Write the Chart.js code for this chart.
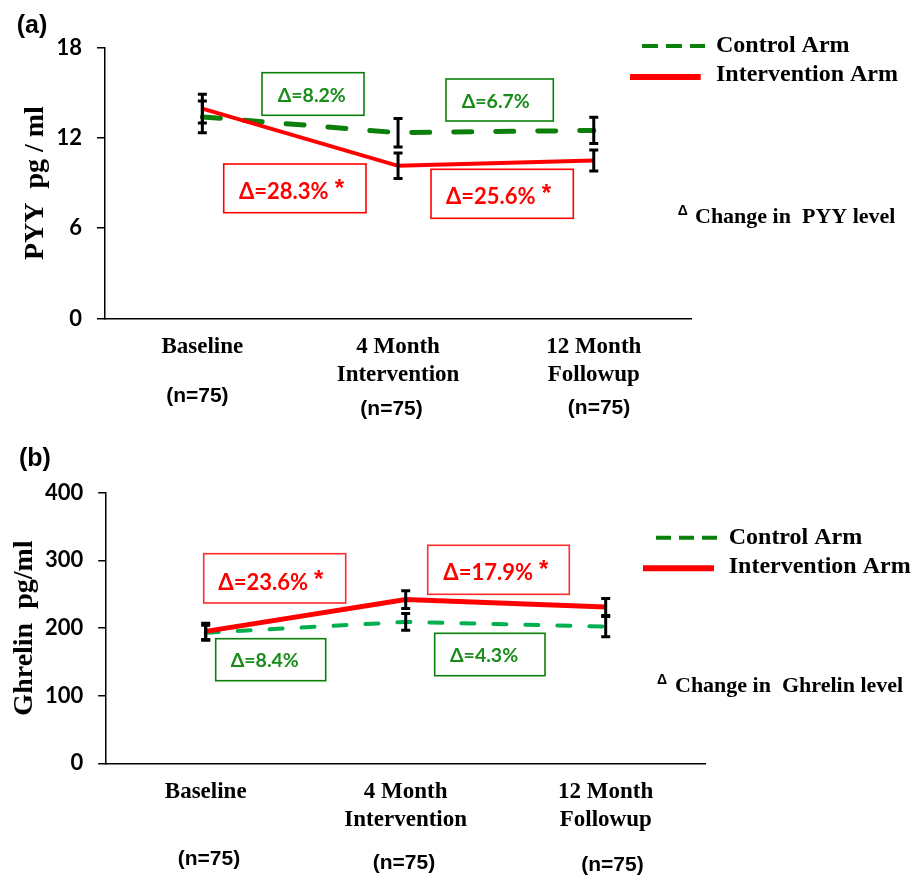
<!DOCTYPE html>
<html>
<head>
<meta charset="utf-8">
<script src="https://cdn.jsdelivr.net/npm/chart.js@4.4.0/dist/chart.umd.min.js"></script>
<style>
  body { margin: 0; background: #fff; }
  #wrap { position: relative; width: 924px; height: 876px; }
  .panel { position: absolute; left: 0; width: 924px; }
</style>
</head>
<body>
<div id="wrap">
  <div class="panel" style="top:0;height:440px"><canvas id="pyy" width="924" height="440"></canvas></div>
  <div class="panel" style="top:440px;height:436px"><canvas id="ghrelin" width="924" height="436"></canvas></div>
</div>
<script>
const timepoints = [['Baseline'], ['4 Month', 'Intervention'], ['12 Month', 'Followup']];
const sampleSizes = ['(n=75)', '(n=75)', '(n=75)'];

const pyyControl = [13.4, 12.35, 12.5];
const pyyControlErr = [1.05, 0.95, 0.87];
const pyyIntervention = [13.95, 10.15, 10.5];
const pyyInterventionErr = [0.95, 0.85, 0.7];
const pyyTicks = [0, 6, 12, 18];
const pyyChanges = ['Δ=8.2%', 'Δ=6.7%', 'Δ=28.3%', 'Δ=25.6%'];

const ghrControl = [193, 209, 202];
const ghrControlErr = [11, 12.5, 15];
const ghrIntervention = [195, 242, 231];
const ghrInterventionErr = [12, 13, 12.7];
const ghrTicks = [0, 100, 200, 300, 400];
const ghrChanges = ['Δ=23.6%', 'Δ=8.4%', 'Δ=17.9%', 'Δ=4.3%'];

const GREEN = '#0a800a';
const GREEN_TXT = '#1a8c1a';
const RED = '#ff0000';
const SERIF = '"Liberation Serif", "Times New Roman", serif';
const SANS = 'Lato, "Liberation Sans", sans-serif';

// overlay layout per panel (canvas coords)
const overlays = {
  pyy: {
    panel: { text: '(a)', x: 16.7, y: 32.5 },
    boxes: [
      { idx: 0, color: GREEN, x: 262, y: 72.7, w: 102, h: 42.6, tx: 277.7, ty: 101.7, size: 19.5 },
      { idx: 1, color: GREEN, x: 446, y: 79, w: 107.3, h: 42, tx: 461.7, ty: 108.3, size: 19.5 },
      { idx: 2, color: RED, x: 223.7, y: 164, w: 142.3, h: 48.7, tx: 239, ty: 199, size: 22, star: true },
      { idx: 3, color: RED, x: 431, y: 169.3, w: 142.3, h: 49, tx: 446, ty: 204, size: 22, star: true }
    ],
    legend: { dashX: [642, 705], dashY: 46, solidX: [630, 700.7], solidY: 77, tx: 716, ty1: 52, ty2: 81, dash: [16, 8] },
    note: { text: 'Change in  PYY level', dx: 677.7, dy: 215, tx: 695, ty: 222.7 },
    nOffsets: [-5, -6.5, 5.3],
    nBase: [402, 414.5, 414]
  },
  ghrelin: {
    panel: { text: '(b)', x: 19, y: 25.5 },
    boxes: [
      { idx: 0, color: '#ff2a2a', x: 203.7, y: 113.7, w: 142, h: 49.3, tx: 218.3, ty: 150, size: 22, star: true },
      { idx: 1, color: GREEN, x: 215.7, y: 198.7, w: 110, h: 42, tx: 230.7, ty: 227.3, size: 19.5 },
      { idx: 2, color: '#ff2a2a', x: 427.7, y: 105.3, w: 141.6, h: 49, tx: 443.3, ty: 140, size: 22, star: true },
      { idx: 3, color: GREEN, x: 434.7, y: 193.3, w: 110.3, h: 42.4, tx: 450, ty: 221.7, size: 19.5 }
    ],
    legend: { dashX: [656, 717.7], dashY: 97.7, solidX: [643, 714], solidY: 128.3, tx: 728.7, ty1: 104, ty2: 133.3, dash: [15, 8] },
    note: { text: 'Change in  Ghrelin level', dx: 657, dy: 244, tx: 675, ty: 251.7 },
    nOffsets: [3.3, -1.7, 6.8],
    nBase: [425, 429, 431]
  }
};

const changeLabels = { pyy: pyyChanges, ghrelin: ghrChanges };

const errorBars = {
  id: 'errorBars',
  afterDatasetsDraw(chart) {
    const { ctx, scales: { y } } = chart;
    ctx.save();
    ctx.strokeStyle = '#000';
    ctx.lineWidth = 3;
    chart.data.datasets.forEach((ds, i) => {
      const meta = chart.getDatasetMeta(i);
      meta.data.forEach((pt, j) => {
        const top = y.getPixelForValue(ds.data[j] + ds.errors[j]);
        const bot = y.getPixelForValue(ds.data[j] - ds.errors[j]);
        ctx.beginPath();
        ctx.moveTo(pt.x, top); ctx.lineTo(pt.x, bot);
        ctx.moveTo(pt.x - 4.5, top); ctx.lineTo(pt.x + 4.5, top);
        ctx.moveTo(pt.x - 4.5, bot); ctx.lineTo(pt.x + 4.5, bot);
        ctx.stroke();
      });
    });
    ctx.restore();
  }
};

const overlay = {
  id: 'overlay',
  afterDraw(chart) {
    const o = overlays[chart.canvas.id];
    const texts = changeLabels[chart.canvas.id];
    const { ctx } = chart;
    ctx.save();

    // panel letter
    ctx.fillStyle = '#000';
    ctx.font = 'bold 25px "Liberation Sans", Arial, sans-serif';
    ctx.textBaseline = 'alphabetic';
    ctx.textAlign = 'left';
    ctx.fillText(o.panel.text, o.panel.x, o.panel.y);

    // change boxes
    o.boxes.forEach(b => {
      ctx.strokeStyle = b.color;
      ctx.lineWidth = 1.6;
      ctx.strokeRect(b.x, b.y, b.w, b.h);
      ctx.fillStyle = b.color === GREEN ? GREEN_TXT : RED;
      ctx.font = `bold ${b.size}px ${SANS}`;
      const t = texts[b.idx];
      ctx.fillText(t, b.tx, b.ty);
      if (b.star) {
        const w = ctx.measureText(t).width;
        ctx.font = 'bold 24px "Liberation Sans", Arial, sans-serif';
        ctx.fillText('*', b.tx + w + 6, b.ty - 3);
      }
    });

    // legend
    const L = o.legend;
    ctx.lineWidth = 4;
    ctx.strokeStyle = GREEN;
    ctx.setLineDash(L.dash);
    ctx.beginPath();
    ctx.moveTo(L.dashX[0], L.dashY); ctx.lineTo(L.dashX[1], L.dashY);
    ctx.stroke();
    ctx.setLineDash([]);
    ctx.lineWidth = 6;
    ctx.strokeStyle = RED;
    ctx.beginPath();
    ctx.moveTo(L.solidX[0], L.solidY); ctx.lineTo(L.solidX[1], L.solidY);
    ctx.stroke();
    ctx.fillStyle = '#000';
    ctx.font = `bold 24px ${SERIF}`;
    ctx.fillText('Control Arm', L.tx, L.ty1);
    ctx.fillText('Intervention Arm', L.tx, L.ty2);

    // note
    ctx.font = 'bold 14px "Liberation Sans", Arial, sans-serif';
    ctx.fillText('Δ', o.note.dx, o.note.dy);
    ctx.font = `bold 22px ${SERIF}`;
    ctx.fillText(o.note.text, o.note.tx, o.note.ty);

    // sample sizes under the categories
    const x = chart.scales.x;
    ctx.font = 'bold 21px "Liberation Sans", Arial, sans-serif';
    ctx.textAlign = 'center';
    sampleSizes.forEach((s, i) => {
      ctx.fillText(s, x.getPixelForValue(i) + o.nOffsets[i], o.nBase[i]);
    });
    ctx.restore();
  }
};

const makeChart = (id, cfg) => new Chart(document.getElementById(id), {
  type: 'line',
  data: {
    labels: timepoints,
    datasets: [
      {
        label: 'Intervention Arm',
        data: cfg.intervention,
        errors: cfg.interventionErr,
        borderColor: RED,
        borderWidth: cfg.redWidth,
        pointRadius: 0,
        tension: 0,
        order: 0
      },
      {
        label: 'Control Arm',
        data: cfg.control,
        errors: cfg.controlErr,
        borderColor: cfg.greenColor,
        borderWidth: cfg.greenWidth,
        borderDash: cfg.dash,
        borderCapStyle: 'round',
        pointRadius: 0,
        tension: 0,
        order: 1
      }
    ]
  },
  options: {
    responsive: false,
    animation: false,
    devicePixelRatio: 1,
    layout: { padding: cfg.padding },
    plugins: { legend: { display: false }, tooltip: { enabled: false } },
    scales: {
      x: {
        offset: true,
        grid: { display: false, drawTicks: false },
        border: { display: true, color: '#000', width: 1.5 },
        ticks: {
          color: '#000',
          padding: 15,
          maxRotation: 0,
          autoSkip: false,
          font: { family: SERIF, size: 23, weight: 'bold', lineHeight: 1.2 }
        },
        afterFit: (s) => { s.height = 100; s.paddingLeft = 0; s.paddingRight = 0; }
      },
      y: {
        min: cfg.ticks[0],
        max: cfg.ticks[cfg.ticks.length - 1],
        afterBuildTicks: (s) => { s.ticks = cfg.ticks.map(v => ({ value: v })); },
        grid: { drawOnChartArea: false, drawTicks: true, tickLength: 7.5, color: '#000', lineWidth: 1.5 },
        border: { display: true, color: '#000', width: 1.5 },
        ticks: { color: '#000', padding: 15, font: { family: SANS, size: 22, weight: 'bold' } },
        title: {
          display: true,
          text: cfg.title,
          color: '#000',
          padding: { top: cfg.titlePad, bottom: 0 },
          font: { family: SERIF, size: 28, weight: 'bold', lineHeight: 1.2 }
        },
        afterFit: (s) => { s.width = cfg.axisLeft; s.paddingTop = 0; s.paddingBottom = 0; }
      }
    }
  },
  plugins: [errorBars, overlay]
});

makeChart('pyy', {
  control: pyyControl, controlErr: pyyControlErr,
  intervention: pyyIntervention, interventionErr: pyyInterventionErr,
  ticks: pyyTicks, title: 'PYY  pg / ml', titlePad: 19,
  greenColor: GREEN, greenWidth: 5, dash: [18, 24], redWidth: 4,
  axisLeft: 104.5,
  padding: { left: 0, top: 47.7, right: 232.4, bottom: 21.5 }
});

makeChart('ghrelin', {
  control: ghrControl, controlErr: ghrControlErr,
  intervention: ghrIntervention, interventionErr: ghrInterventionErr,
  ticks: ghrTicks, title: 'Ghrelin  pg/ml', titlePad: 8,
  greenColor: '#00b050', greenWidth: 4, dash: [13, 19], redWidth: 5,
  axisLeft: 105.7,
  padding: { left: 0, top: 52.7, right: 218.3, bottom: 12.7 }
});
</script>
</body>
</html>
